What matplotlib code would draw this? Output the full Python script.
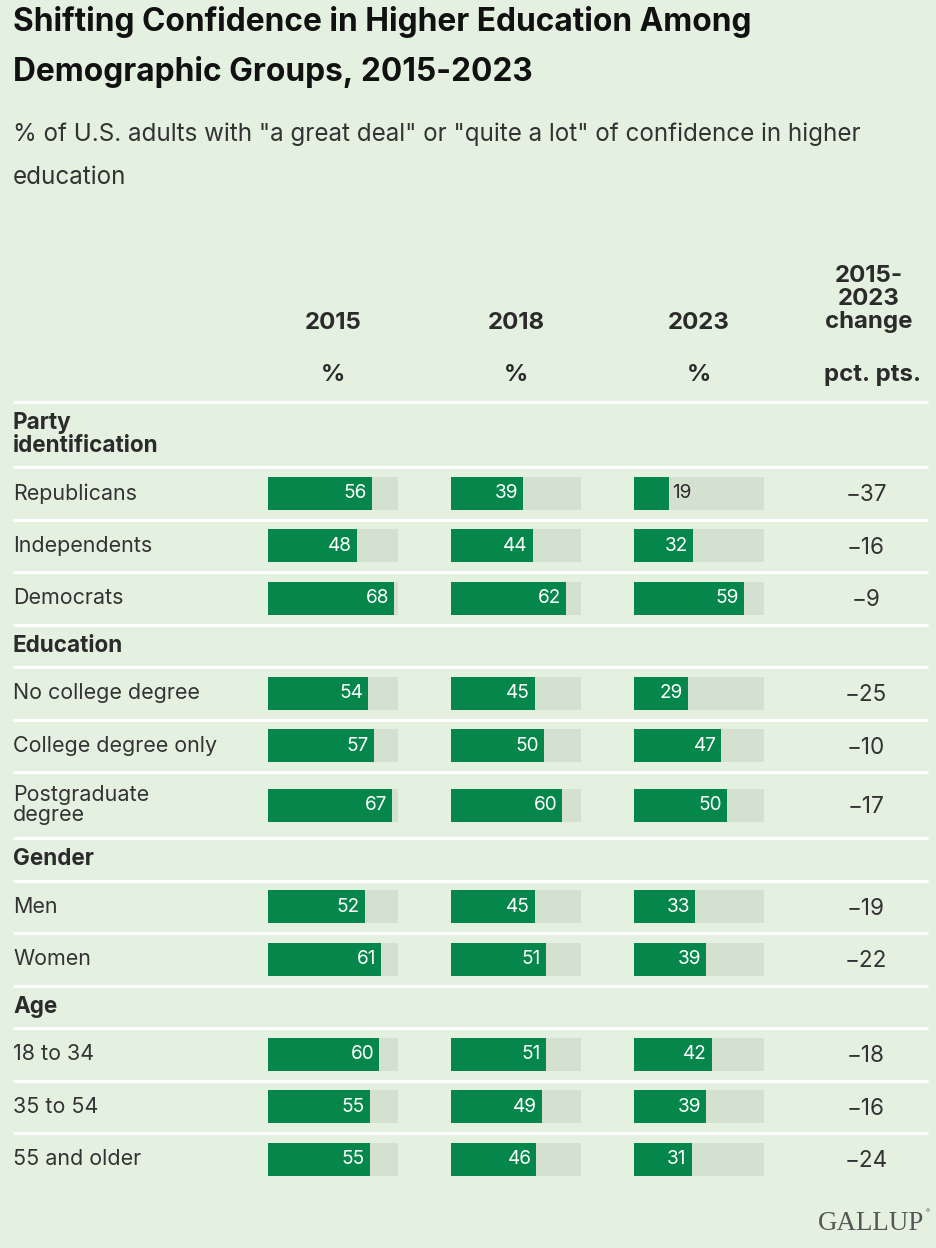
import matplotlib.pyplot as plt

# data
groups = ["Party\nidentification", "Education", "Gender", "Age"]
group_rows = [
    ["Republicans", "Independents", "Democrats"],
    ["No college degree", "College degree only", "Postgraduate\ndegree"],
    ["Men", "Women"],
    ["18 to 34", "35 to 54", "55 and older"],
]
years = ["2015", "2018", "2023"]
v2015 = [56, 48, 68, 54, 57, 67, 52, 61, 60, 55, 55]
v2018 = [39, 44, 62, 45, 50, 60, 45, 51, 51, 49, 46]
v2023 = [19, 32, 59, 29, 47, 50, 33, 39, 42, 39, 31]
change = [-37, -16, -9, -25, -10, -17, -19, -22, -18, -16, -24]

BG = "#e4f1e1"
GREEN = "#05874b"
TRACK = "#d4e0d0"
TXT = "#2b2b2b"
W, H = 936, 1248
PX = 0.72  # px -> pt at dpi 100

plt.rcParams['font.family'] = ['Inter', 'DejaVu Sans']

fig = plt.figure(figsize=(W / 100, H / 100), dpi=100, facecolor=BG)
ov = fig.add_axes([0, 0, 1, 1])
ov.set_xlim(0, W)
ov.set_ylim(H, 0)
ov.axis('off')

# title and subtitle
ov.text(13, 22, "Shifting Confidence in Higher Education Among", fontsize=31.7 * PX,
        fontweight='bold', color="#111111", va='center')
ov.text(13, 72, "Demographic Groups, 2015-2023", fontsize=31.7 * PX,
        fontweight='bold', color="#111111", va='center')
ov.text(13, 134, '% of U.S. adults with "a great deal" or "quite a lot" of confidence in higher',
        fontsize=24.2 * PX, color="#333333", va='center')
ov.text(13, 177, "education", fontsize=24.2 * PX, color="#333333", va='center')

# column headers
col_left = [268, 451, 634]
col_w = 130
chg_x = 868
for x0, yr in zip(col_left, years):
    ov.text(x0 + col_w / 2, 323, yr, fontsize=24 * PX, fontweight='bold', color=TXT,
            ha='center', va='center')
    ov.text(x0 + col_w / 2, 375, "%", fontsize=24 * PX, fontweight='bold', color=TXT,
            ha='center', va='center')
ov.text(chg_x + 1, 299, "2015-\n2023\nchange", fontsize=24 * PX, fontweight='bold', color=TXT,
        ha='center', va='center', linespacing=1.06)
ov.text(chg_x + 4, 375, "pct. pts.", fontsize=24 * PX, fontweight='bold', color=TXT,
        ha='center', va='center')

# row layout
y = 402
row_centers = []
row_labels = []
seps = []
for g, rows in zip(groups, group_rows):
    seps.append(y)
    gh = 65 if "\n" in g else 42.5
    ov.text(13, y + gh / 2, g, fontsize=22.5 * PX, fontweight='bold', color=TXT,
            va='center', linespacing=1.02)
    y += gh
    for r in rows:
        seps.append(y)
        rh = 66 if "\n" in r else 52.5
        row_centers.append(y + rh / 2)
        row_labels.append(r)
        y += rh

for s in seps:
    ov.plot([13, 928], [s, s], color='white', lw=3 * PX, solid_capstyle='butt')

for yc, lab, ch in zip(row_centers, row_labels, change):
    ov.text(13, yc, lab, fontsize=21.5 * PX, color="#333333", va='center', linespacing=1.06)
    ov.text(chg_x - 2, yc + 2, f"\u2212{abs(ch)}", fontsize=22.5 * PX, color="#333333",
            ha='center', va='center')

# bars
for x0, vals in zip(col_left, [v2015, v2018, v2023]):
    bx = fig.add_axes([x0 / W, 0, col_w / W, 1])
    bx.set_xlim(0, 70)
    bx.set_ylim(H, 0)
    bx.axis('off')
    bx.patch.set_alpha(0)
    bx.barh(row_centers, [70] * len(vals), height=33, color=TRACK, left=0)
    bx.barh(row_centers, vals, height=33, color=GREEN, left=0)
    for yc, v in zip(row_centers, vals):
        if v < 25:
            bx.annotate(str(v), (v, yc), xytext=(3 * PX, 0), textcoords='offset points',
                        ha='left', va='center', fontsize=19 * PX, color=TXT)
        else:
            bx.annotate(str(v), (v, yc), xytext=(-5 * PX, 0), textcoords='offset points',
                        ha='right', va='center', fontsize=19 * PX, color='white')

# logo
ov.text(924, 1224, "GALLUP", fontsize=27 * PX, color="#555555", ha='right', va='center',
        family='Liberation Serif')
ov.text(926, 1212, "\u00ae", fontsize=6 * PX, color="#555555", ha='left', va='center')

fig.savefig("out.png", dpi=100, facecolor=BG)
